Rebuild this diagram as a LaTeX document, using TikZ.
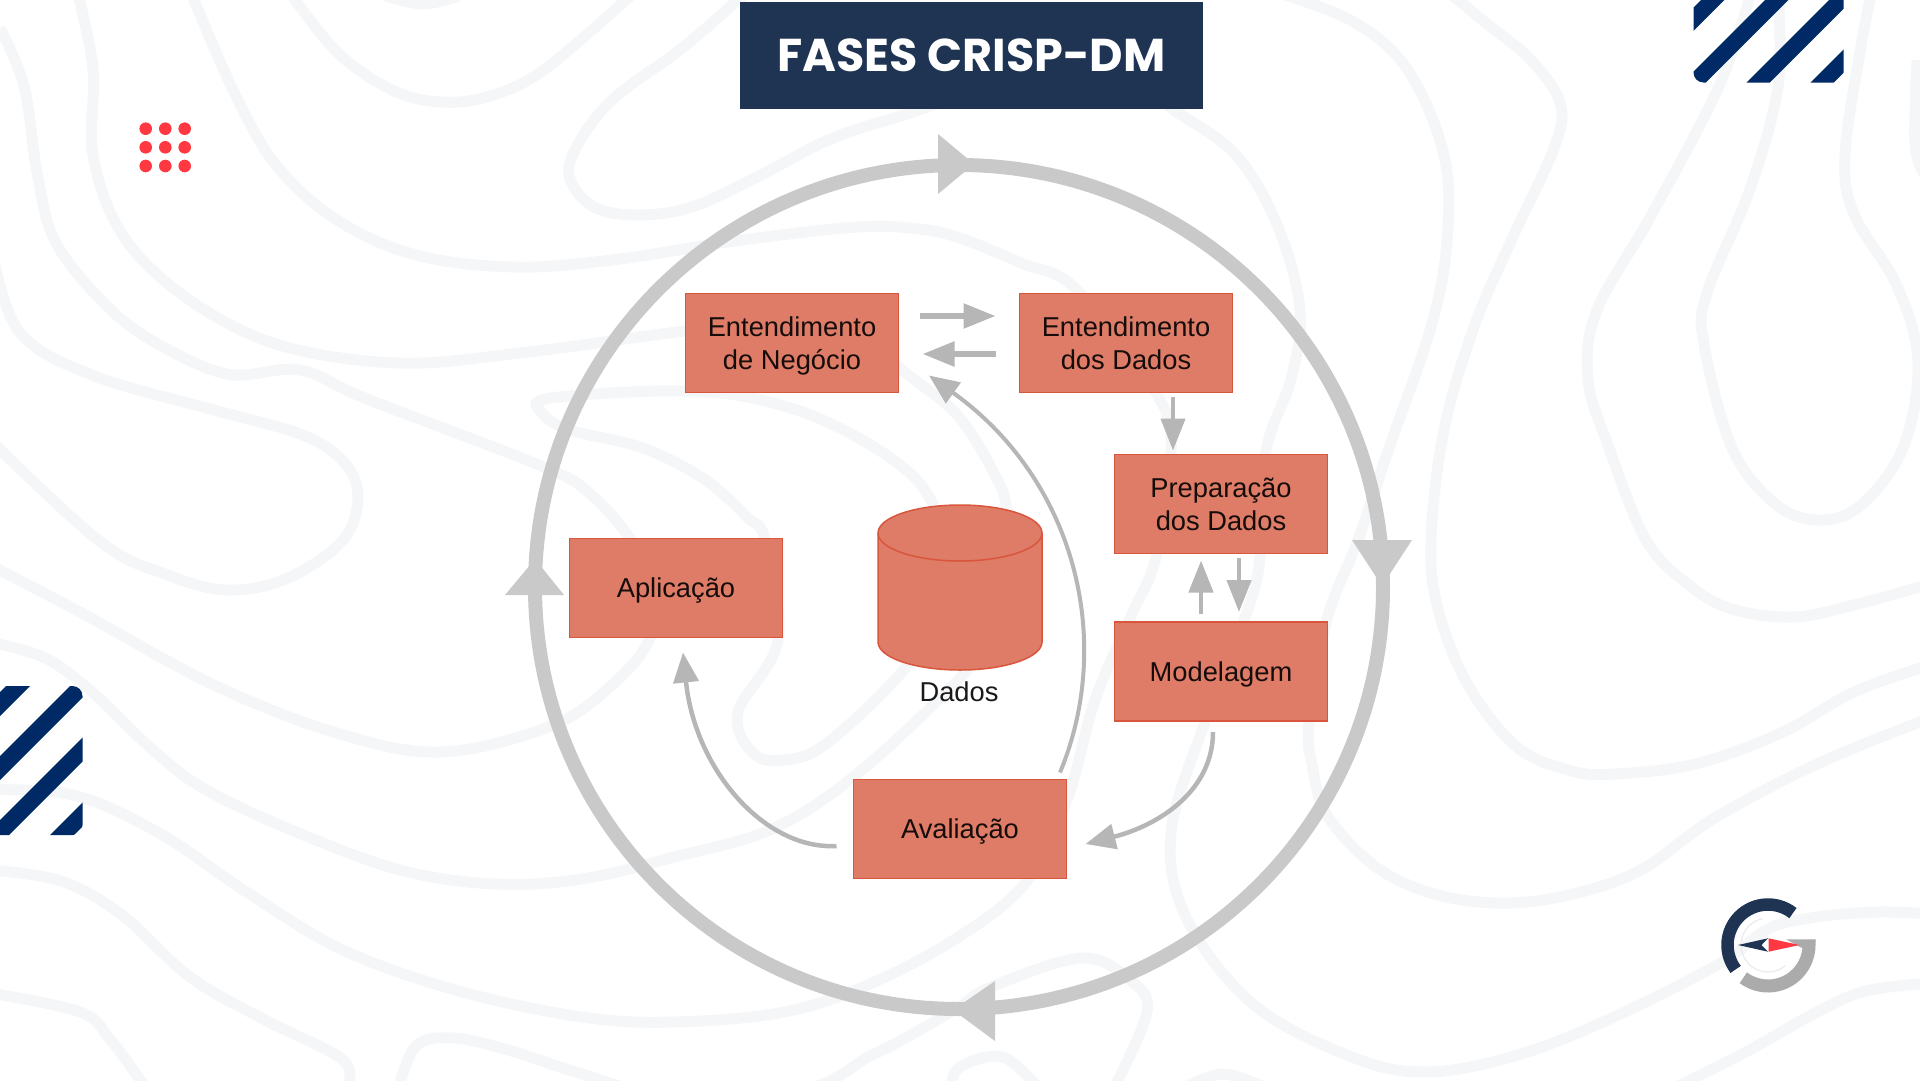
\documentclass[tikz,border=0pt]{standalone}
\usepackage{fontspec}
\setmainfont{Liberation Sans}
\newfontfamily\titlefont{Poppins}
\usetikzlibrary{arrows.meta}
\definecolor{navybar}{HTML}{1F3353}
\definecolor{navystripe}{HTML}{002A66}
\definecolor{boxfill}{HTML}{DE7C68}
\definecolor{boxedge}{HTML}{D9553C}
\definecolor{ringgrey}{HTML}{C9C9C9}
\definecolor{arrowgrey}{HTML}{B6B6B6}
\definecolor{contourgrey}{HTML}{F5F6F8}
\definecolor{dotred}{HTML}{FF3841}
\definecolor{logogrey}{HTML}{ABABAB}
\tikzset{
	phasebox/.style={draw=boxedge,fill=boxfill,line width=1.5pt,minimum width=213pt,minimum height=99pt,
		inner sep=0pt,outer sep=0pt,align=center,text depth=0pt,text=black!90!boxfill,font=\fontsize{27.3}{32.5}\selectfont},
	smallarrow/.style={draw=arrowgrey,line width=5.5pt,-{Triangle[length=32pt,width=24pt]}},
	curvearrow/.style={draw=arrowgrey,line width=4.5pt,-{Triangle[length=30pt,width=25pt]}},
	ringline/.style={draw=ringgrey,line width=14pt},
	contourline/.style={draw=contourgrey,line width=11pt}
}
\newcommand{\contourpath}[1]{\draw[contourline] plot[smooth,tension=.6] coordinates {#1};}
\begin{document}
\begin{tikzpicture}[x=1pt,y=-1pt]
	\useasboundingbox (0,0) rectangle (1920,1080);
	% contour lines
	\begin{scope}
		\clip (0,0) rectangle (1920,1080);
		\contourpath{(0,28) (24,86) (37,172) (55,241) (104,303) (153,341) (227,374) (300,370) (367,399) (539,465) (588,492) (631,540) (655,590) (649,640) (612,685) (551,726) (441,752) (337,733) (214,685) (80,612) (-20,560)}
		\contourpath{(77,-10) (93,69) (93,155) (122,234) (184,296) (276,344) (398,363) (520,353) (686,331) (790,322) (860,335) (902,370) (959,417) (999,483) (1008,513) (1030,590) (985,640) (960,678) (857,774) (772,829) (674,857) (582,879) (496,884) (404,871) (306,836) (208,791) (153,750) (92,692) (43,657) (-20,640)}
		\contourpath{(190,-10) (233,90) (276,165) (337,220) (416,255) (514,267) (612,260) (735,241) (857,227) (919,229) (960,238) (1021,263) (1076,289) (1156,393) (1171,451) (1156,557) (1131,616) (1095,700) (1067,800) (1027,881) (960,936) (870,984) (784,1012) (674,1022) (582,1017) (459,991) (343,950) (245,891) (159,833) (73,795) (-20,790)}
		\contourpath{(-20,430) (98,540) (165,574) (227,590) (288,578) (343,540) (358,496) (343,461) (300,434) (214,410) (92,375) (18,330) (-10,240)}
		\contourpath{(934,506) (912,475) (857,437) (784,406) (692,391) (551,398) (542,413) (570,430) (643,448) (704,479) (747,517) (765,540) (778,640) (738,712) (753,753) (784,760) (827,743) (906,667) (940,600) (934,506)}
		\contourpath{(288,-10) (337,52) (392,90) (441,102) (490,96) (545,69) (637,-10)}
		\contourpath{(386,-4) (423,4) (459,-4)}
		\contourpath{(760,-20) (686,45) (612,100) (576,148) (570,179) (594,207) (637,215) (692,207) (759,176) (833,138) (919,110) (1000,80)}
		\contourpath{(1150,90) (1174,110) (1236,155) (1278,227) (1300,310) (1291,379) (1266,451) (1260,557) (1248,609) (1205,722) (1171,833) (1187,919) (1254,1005) (1352,1057) (1425,1072) (1511,1057) (1603,1022) (1719,964) (1768,929) (1817,917) (1878,912) (1930,914)}
		\contourpath{(1270,-10) (1352,21) (1407,69) (1444,155) (1447,241) (1431,327) (1389,448) (1358,540) (1327,619) (1309,722) (1312,764) (1327,815) (1376,867) (1438,895) (1511,903) (1585,891) (1646,867) (1713,819) (1817,764) (1930,718)}
		\contourpath{(1446,-10) (1487,24) (1530,59) (1560,103) (1554,148) (1511,241) (1474,327) (1444,430) (1431,540) (1438,609) (1468,685) (1517,747) (1572,771) (1615,774) (1695,764) (1781,733) (1854,692) (1930,665)}
		\contourpath{(1778,-10) (1778,86) (1750,189) (1707,293) (1704,344) (1732,448) (1774,503) (1817,520) (1860,506) (1903,448) (1918,362) (1897,286) (1854,214) (1845,155) (1860,52) (1872,-10)}
		\contourpath{(1752,-10) (1719,86) (1652,214) (1597,310) (1588,379) (1609,448) (1646,540) (1689,585) (1732,609) (1793,617) (1854,605) (1930,584)}
		\contourpath{(1917,60) (1915,145) (1925,175)}
		\contourpath{(-10,870) (61,881) (122,915) (190,977) (263,1019) (343,1060) (346,1090)}
		\contourpath{(-10,993) (80,1012) (110,1039) (147,1090)}
		\contourpath{(398,1090) (416,1046) (453,1038) (508,1050) (582,1074) (649,1090) (800,1090) (870,1056) (902,1040) (959,1007) (991,987) (1082,958) (1131,981) (1147,1012) (1113,1090)}
		\contourpath{(950,1090) (960,1067) (1003,1057) (1040,1090)}
		\contourpath{(1180,1090) (1223,1074) (1270,1090)}
		\contourpath{(1670,1090) (1744,1053) (1817,1012) (1866,991) (1930,983)}
	\end{scope}
	% stripes top right
	\begin{scope}
		\clip[rounded corners=10pt] (1693.5,-20) rectangle (1843.5,82.5);
		\foreach \c in {1701,1765,1829,1893}
			\fill[navystripe] (\c+20,-20) -- (\c+43.3,-20) -- (\c-76.7,100) -- (\c-100,100) -- cycle;
	\end{scope}
	% stripes left
	\begin{scope}
		\clip[rounded corners=10pt] (-20,686) rectangle (82.5,835);
		\foreach \c in {692,756,820,885}
			\fill[navystripe] (\c-670,670) -- (\c-646,670) -- (\c-826,850) -- (\c-850,850) -- cycle;
	\end{scope}
	% dots
	\foreach \x in {145.7,165.3,184.7}
		\foreach \y in {128.7,147.3,166}
			\fill[dotred] (\x,\y) circle[radius=6.3];
	% title
	\node[fill=navybar,minimum width=463pt,minimum height=107pt,inner sep=0pt,text=white,
		font=\titlefont\bfseries\fontsize{46}{54}\selectfont] (title) at (971.5,55.5) {FASES CRISP-DM};
	% outer ring
	\draw[ringline] (959,587) circle[x radius=424,y radius=422];
	\foreach \a/\b/\c in {{938,134}/{974,164}/{938,194},{1352,540}/{1382,586}/{1412,540},{564,595}/{535,559}/{505,595},{995,981}/{953,1010}/{995,1041}}
		\fill[ringgrey] (\a) -- (\b) -- (\c) -- cycle;
	% phases
	\node[phasebox] (negocio) at (792,343) {Entendimento\\de Negócio};
	\node[phasebox] (entdados) at (1126,343) {Entendimento\\dos Dados};
	\node[phasebox] (preparo) at (1221,504) {Preparação\\dos Dados};
	\node[phasebox] (modelo) at (1221,671.5) {Modelagem};
	\node[phasebox] (avalia) at (960,829) {Avaliação};
	\node[phasebox] (aplica) at (676,588) {Aplicação};
	% data
	\begin{scope}[shift={(960,587.5)},y=1pt]
		\filldraw[draw=boxedge,fill=boxfill,line width=1.5pt] (-82,54.5) arc[start angle=180,end angle=0,x radius=82,y radius=28]
			-- (82,-54.5) arc[start angle=0,end angle=-180,x radius=82,y radius=28] -- cycle;
		\draw[boxedge,line width=1.5pt] (-82,54.5) arc[start angle=180,end angle=360,x radius=82,y radius=28];
	\end{scope}
	\node[font=\fontsize{27.3}{32.5}\selectfont,text=black!90,inner sep=0pt] (rotulo) at (959,692) {Dados};
	% small arrows
	\draw[smallarrow] ([xshift=21pt,yshift=27pt]negocio.east) -- ([xshift=-24pt,yshift=27pt]entdados.west);
	\draw[smallarrow] ([xshift=-24pt,yshift=-11pt]entdados.west) -- ([xshift=24pt,yshift=-11pt]negocio.east);
	\draw[smallarrow,line width=4.5pt] ([xshift=47pt,yshift=-4pt]entdados.south) -- ([xshift=-48pt,yshift=4pt]preparo.north);
	\draw[smallarrow,line width=4.5pt] ([xshift=-20pt,yshift=8pt]modelo.north) -- ([xshift=-20pt,yshift=-7pt]preparo.south);
	\draw[smallarrow,line width=4.5pt] ([xshift=18pt,yshift=-4pt]preparo.south) -- ([xshift=18pt,yshift=10pt]modelo.north);
	% curved arrows
	\draw[curvearrow,line width=4pt] ([xshift=100pt,yshift=7pt]avalia.north) .. controls (1115,640) and (1075,480) .. ([xshift=137pt,yshift=17pt]negocio.south);
	\draw[curvearrow] ([xshift=-17pt,yshift=-17pt]avalia.west) .. controls (765,850) and (695,770) .. ([xshift=7pt,yshift=-15pt]aplica.south);
	\draw[curvearrow] ([xshift=-8pt,yshift=-11pt]modelo.south) .. controls (1213,790) and (1160,825) .. ([xshift=19pt,yshift=-15pt]avalia.east);
	% logo
	\begin{scope}[shift={(1768,945)},y=1pt]
		\draw[draw=black!8,line width=1.2pt] (100:27) arc[start angle=100,end angle=310,radius=27];
		\draw[navybar,line width=12.5pt] (52:40.5) arc[start angle=52,end angle=217,radius=40.5];
		\draw[logogrey,line width=13pt] (7:41) arc[start angle=7,end angle=-127,radius=41];
		\fill[logogrey] (18,5.7) -- (47.7,5.7) -- (47,-3) -- (34,-3) -- cycle;
		\fill[navybar] (-30,0) -- (0,6.7) -- (-6.5,0) -- (0,-6.7) -- cycle;
		\fill[dotred] (0.5,6.7) -- (31.5,0) -- (0.5,-6.7) -- cycle;
	\end{scope}
\end{tikzpicture}
\end{document}
